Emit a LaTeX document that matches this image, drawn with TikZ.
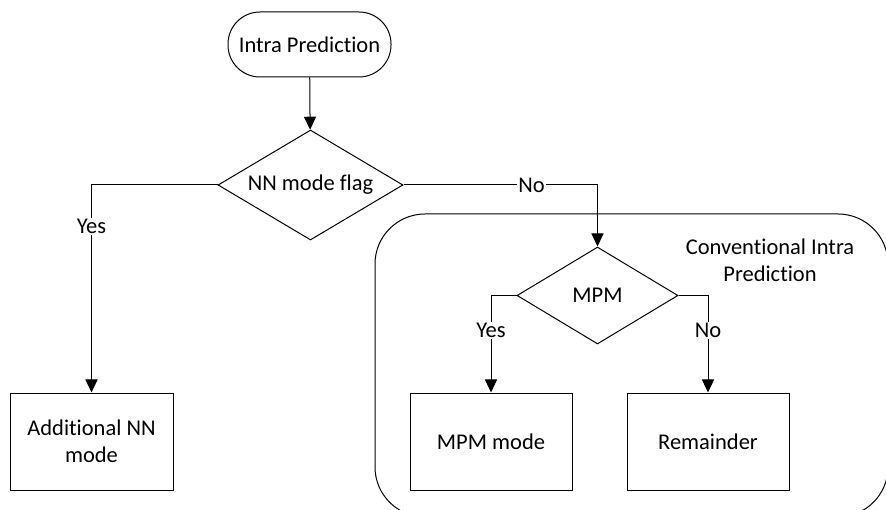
\documentclass[tikz,border=0pt]{standalone}
\usepackage{fontspec}
\setmainfont{Carlito}[Ligatures={NoCommon,NoContextual}]
\usetikzlibrary{shapes.geometric,arrows.meta}
\tikzset{
  base/.style={draw, line width=1pt, font=\fontsize{22.5}{27}\selectfont, align=center, inner sep=0pt},
  terminal/.style={base, rectangle, rounded corners=32pt, minimum width=163pt, minimum height=65pt},
  decision/.style={base, diamond, aspect=1.68},
  procbox/.style={base, rectangle, minimum width=162pt, minimum height=97pt},
  container/.style={draw, line width=1pt, rectangle, rounded corners=50pt, minimum width=513pt, minimum height=303pt},
  conn/.style={line width=1pt, -{Triangle[length=13pt,width=12pt]}},
  lbl/.style={fill=white, font=\fontsize{22.5}{27}\selectfont, inner sep=1pt},
  plain/.style={font=\fontsize{22.5}{27}\selectfont, align=center, inner sep=0pt}
}
\begin{document}
\begin{tikzpicture}[x=1pt,y=-1pt]
\useasboundingbox (0,0) rectangle (886,510);
\clip (0,0) rectangle (886,510);
\fill[white] (0,0) rectangle (886,510);
\node[container] (conv) at (631.5,365.5) {};
\node[plain] (convlbl) at (770,260) {Conventional Intra\\Prediction};
\node[terminal] (start) at (309.5,44.5) {Intra Prediction};
\node[decision, minimum width=185pt, minimum height=110pt] (nn) at (310.5,185) {NN mode flag};
\node[procbox, minimum width=163pt] (add) at (91.5,441.5) {Additional NN\\mode};
\node[decision, minimum width=161pt, minimum height=97pt] (mpm) at (597.5,295.5) {MPM};
\node[procbox] (mpmmode) at (491,441.5) {MPM mode};
\node[procbox] (rem) at (708,441.5) {Remainder};
\draw[conn] (start) -- (nn);
\draw[conn] (nn.west) -| node[lbl, pos=0.6] {Yes} (add.north);
\draw[conn] (nn.east) -| node[lbl, pos=0.33] {No} (mpm.north);
\draw[conn] (mpm.west) -| node[lbl, pos=0.68] {Yes} (mpmmode.north);
\draw[conn] (mpm.east) -| node[lbl, pos=0.68] {No} (rem.north);
\end{tikzpicture}
\end{document}
